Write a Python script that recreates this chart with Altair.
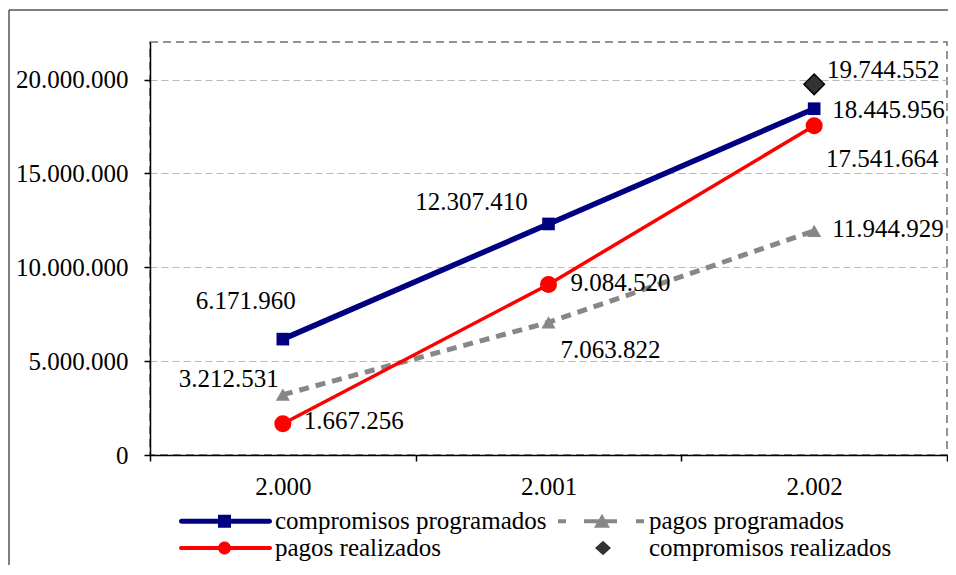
import math
import altair as alt
import pandas as pd

# ---------------- data ----------------
years = ["2.000", "2.001", "2.002"]
series = ["compromisos programados", "pagos programados",
          "pagos realizados", "compromisos realizados"]
comp_prog = [6171960, 12307410, 18445956]
pagos_prog = [3212531, 7063822, 11944929]
pagos_real = [1667256, 9084520, 17541664]
comp_real = [None, None, 19744552]
y_ticks = [0, 5000000, 10000000, 15000000, 20000000]

rows = []
for name, vals in zip(series, [comp_prog, pagos_prog, pagos_real, comp_real]):
    for yr, v in zip(years, vals):
        if v is not None:
            rows.append({"serie": name, "anio": yr, "valor": v})
df = pd.DataFrame(rows)

# ---------------- styles ----------------
FONT = "Liberation Serif"
NAVY, GRAY, RED, DARK = "#000080", "#878787", "#ff0000", "#333333"
colors = [NAVY, GRAY, RED, DARK]

W, H = 797, 413
fmt = "replace(replace(format({v}, ','), ',', '.'), ',', '.')"


# legend symbol paths (unit square -1..1 == 25px)
def f(v):
    return f"{v:.3f}"


def rect(x0, y0, x1, y1):
    return f"M{f(x0)},{f(y0)}L{f(x1)},{f(y0)}L{f(x1)},{f(y1)}L{f(x0)},{f(y1)}Z"


def circle(cx, r, n=20):
    pts = []
    for k in range(n):
        th = math.pi + 2 * math.pi * k / n
        pts.append((cx + r * math.cos(th), r * math.sin(th)))
    return "M" + "L".join(f"{f(a)},{f(b)}" for a, b in pts) + "Z"


def round_bar(x0, x1, t, n=8):
    pts = [(x0, -t), (x1, -t)]
    for k in range(1, n):
        th = -math.pi / 2 + math.pi * k / n
        pts.append((x1 + t * math.cos(th), t * math.sin(th)))
    pts += [(x1, t), (x0, t)]
    for k in range(1, n):
        th = math.pi / 2 + math.pi * k / n
        pts.append((x0 + t * math.cos(th), t * math.sin(th)))
    return "M" + "L".join(f"{f(a)},{f(b)}" for a, b in pts) + "Z"


def tri(cx):
    return f"M{f(cx)},-0.6L{f(cx + 0.64)},0.52L{f(cx - 0.64)},0.52Z"


def diamond(cx):
    return f"M{f(cx)},-0.58L{f(cx + 0.64)},0L{f(cx)},0.58L{f(cx - 0.64)},0Z"


p_cp = round_bar(-0.8, 6.24, 0.2) + rect(2.12, -0.52, 3.16, 0.52)
p_pp = (rect(-0.6, -0.16, 0.04, 0.16) + rect(1.48, -0.16, 4.12, 0.16)
        + tri(2.92) + rect(5.64, -0.16, 6.28, 0.16))
p_pr = round_bar(-0.84, 6.28, 0.16) + circle(2.64, 0.52)
p_cr = diamond(3.0)
paths = [p_cp, p_pp, p_pr, p_cr]

x_enc = alt.X("anio:O", sort=years,
              scale=alt.Scale(type="band", paddingInner=0, paddingOuter=0),
              axis=alt.Axis(title=None, labelAngle=0, tickBand="extent",
                            labelFont=FONT, labelFontSize=25, labelColor="black",
                            domainColor="black", domainWidth=1.5,
                            tickColor="black", tickWidth=1.5, tickSize=6,
                            labelPadding=13, grid=False))
y_enc = alt.Y("valor:Q",
              scale=alt.Scale(domain=[0, 22000000], nice=False, zero=True),
              axis=alt.Axis(title=None, values=y_ticks,
                            labelExpr=fmt.format(v="datum.value"),
                            labelFont=FONT, labelFontSize=25, labelColor="black",
                            domainColor="black", domainWidth=1.5,
                            tickColor="black", tickWidth=1.5, tickSize=6,
                            labelPadding=16, grid=True, gridColor="#b8b8b8",
                            gridDash=[7, 4], gridWidth=1))

base = alt.Chart(df).encode(x=x_enc, y=y_enc)


def one(s):
    return base.transform_filter(f"datum.serie === '{s}'")


layers = []

# outer chart-area frame
frame = alt.Chart(pd.DataFrame({"k": [0]})).mark_rect(
    fillOpacity=0, stroke="black", strokeWidth=1
).encode(x=alt.value(-141), x2=alt.value(1200),
         y=alt.value(-32), y2=alt.value(1200))
layers.append(frame)

# legend carrier (draws nothing, only supplies the legend)
leg = alt.Legend(orient="none", legendX=29, legendY=466.5, columns=2,
                 direction="horizontal", title=None,
                 symbolSize=625, symbolStrokeWidth=0, symbolOpacity=1,
                 labelFont=FONT, labelFontSize=25, labelColor="black",
                 labelOffset=71, labelLimit=500, columnPadding=6, rowPadding=1,
                 padding=0)
legend_layer = base.transform_filter("false").mark_point(filled=True, opacity=1).encode(
    color=alt.Color("serie:N", scale=alt.Scale(domain=series, range=colors), legend=leg),
    shape=alt.Shape("serie:N", scale=alt.Scale(domain=series, range=paths), legend=leg),
)
layers.append(legend_layer)

# compromisos programados
layers.append(one(series[0]).mark_line(color=NAVY, strokeWidth=5.5))
layers.append(one(series[0]).mark_point(filled=True, opacity=1, shape="square",
                                         size=160, color=NAVY))
# pagos programados
layers.append(one(series[1]).mark_line(color=GRAY, strokeWidth=5, strokeDash=[10, 7]))
layers.append(one(series[1]).mark_point(filled=True, opacity=1, shape="triangle-up",
                                         size=200, color=GRAY))
# pagos realizados
layers.append(one(series[2]).mark_line(color=RED, strokeWidth=3.5))
layers.append(one(series[2]).mark_point(filled=True, opacity=1, shape="circle",
                                         size=290, color=RED))
# compromisos realizados
layers.append(one(series[3]).mark_point(filled=True, opacity=1, shape="diamond",
                                         size=420, color=DARK, stroke="black",
                                         strokeWidth=1.5))

# data labels
label_style = {
    (series[0], "2.000"): (-37, -38, "center"),
    (series[0], "2.001"): (-77, -22, "center"),
    (series[0], "2.002"): (18, 1, "left"),
    (series[1], "2.000"): (-54, -16, "center"),
    (series[1], "2.001"): (62, 28, "center"),
    (series[1], "2.002"): (18, -2, "left"),
    (series[2], "2.000"): (21, -3, "left"),
    (series[2], "2.001"): (22, -1, "left"),
    (series[2], "2.002"): (68, 33, "center"),
    (series[3], "2.002"): (69, -14, "center"),
}
for (s, yr), (dx, dy, al) in label_style.items():
    layers.append(
        base.transform_filter(f"datum.serie === '{s}' && datum.anio === '{yr}'")
        .transform_calculate(lbl=fmt.format(v="datum.valor"))
        .mark_text(font=FONT, fontSize=25, color="black", align=al,
                   baseline="middle", dx=dx, dy=dy)
        .encode(text="lbl:N")
    )

chart = alt.layer(*layers).properties(
    width=W, height=H,
    autosize=alt.AutoSizeParams(type="none"),
    padding={"left": 142, "top": 34, "right": 1, "bottom": 110},
    background="white",
).configure_view(
    stroke="#707070", strokeDash=[8, 5], strokeWidth=1.5
)

chart.save("out.html", embed_options={"renderer": "svg", "actions": False})
